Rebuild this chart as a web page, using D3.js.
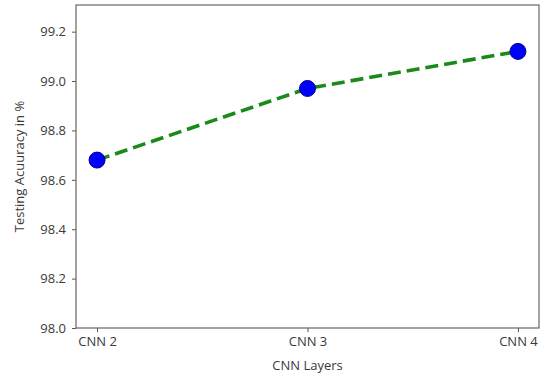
<!DOCTYPE html>
<html>
<head>
<meta charset="utf-8">
<script src="https://cdn.jsdelivr.net/npm/d3@7"></script>
<style>
  body { margin: 0; background: #fff; }
  text { font-family: "Open Sans", "Noto Sans", sans-serif; }
</style>
</head>
<body>
<svg id="my-svg" width="541" height="381"></svg>
<script>
const layers = ["CNN 2", "CNN 3", "CNN 4"];
const accuracy = [98.68, 98.97, 99.12];
const yTicks = [98.0, 98.2, 98.4, 98.6, 98.8, 99.0, 99.2];

const svg = d3.select("#my-svg"),
      svgWidth = 541, svgHeight = 381,
      margin = {top: 5, right: 2, bottom: 53, left: 76};

const innerWidth = svgWidth - margin.left - margin.right,
      innerHeight = svgHeight - margin.top - margin.bottom;

// matplotlib style 5% margins on x
const xScale = d3.scaleLinear()
    .domain([-0.1, layers.length - 1 + 0.1])
    .range([0, innerWidth]);

const yScale = d3.scaleLinear()
    .domain([98.0, 99.308])
    .range([innerHeight, 0]);

const g = svg.append("g")
    .attr("transform", `translate(${margin.left}, ${margin.top})`);

const textColor = "#3a3a3a";

const xAxis = g.append("g")
    .attr("transform", `translate(0, ${innerHeight})`)
    .call(d3.axisBottom(xScale).tickValues(d3.range(layers.length)).tickFormat(i => layers[i]).tickSize(4).tickPadding(5));

const yAxis = g.append("g")
    .call(d3.axisLeft(yScale).tickValues(yTicks).tickFormat(d3.format(".1f")).tickSize(4).tickPadding(6));

[xAxis, yAxis].forEach(a => {
  a.select(".domain").remove();
  a.selectAll("line").attr("stroke", "#555");
  a.selectAll("text").attr("fill", textColor).style("font-size", "13px");
});

g.append("rect")
    .attr("width", innerWidth)
    .attr("height", innerHeight)
    .attr("fill", "none")
    .attr("stroke", "#666")
    .attr("stroke-width", 1.2);

const line = d3.line()
    .x((d, i) => xScale(i))
    .y(d => yScale(d));

g.append("path")
    .datum(accuracy)
    .attr("d", line)
    .attr("fill", "none")
    .attr("stroke", "#1a8a1a")
    .attr("stroke-width", 3.6)
    .attr("stroke-dasharray", "13,6");

g.selectAll("circle")
    .data(accuracy)
    .join("circle")
    .attr("cx", (d, i) => xScale(i))
    .attr("cy", d => yScale(d))
    .attr("r", 8)
    .attr("fill", "#0000ff")
    .attr("stroke", "#00008b")
    .attr("stroke-width", 1);

svg.append("text")
    .attr("x", margin.left + innerWidth / 2)
    .attr("y", 370)
    .attr("text-anchor", "middle")
    .attr("fill", textColor)
    .style("font-size", "13px")
    .text("CNN Layers");

svg.append("text")
    .attr("transform", `translate(24, ${margin.top + innerHeight / 2}) rotate(-90)`)
    .attr("text-anchor", "middle")
    .attr("fill", textColor)
    .style("font-size", "13px")
    .text("Testing Acuuracy in %");
</script>
</body>
</html>
